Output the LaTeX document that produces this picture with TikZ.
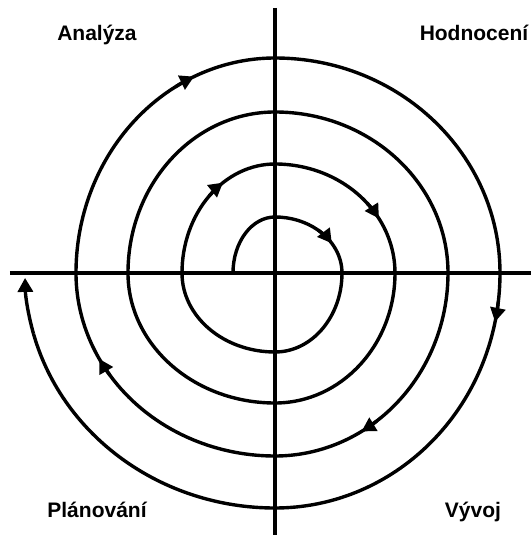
\documentclass[tikz,border=0pt]{standalone}
\usepackage{fontspec}
\setmainfont{Liberation Sans}
\usetikzlibrary{arrows.meta}

\begin{document}
\begin{tikzpicture}[
    x=1pt, y=1pt,
    axis/.style={line width=4.5pt},
    spiral/.style={line width=3.4pt},
    tip/.style={line width=3.4pt, -{Triangle[length=14pt,width=15pt]}},
    phase/.style={font=\fontsize{21}{25}\selectfont\bfseries, anchor=base},
  ]
  \useasboundingbox (-275,-262) rectangle (256,273);

  % axes
  \coordinate (west)  at (-265,0);
  \coordinate (east)  at (256,0);
  \coordinate (north) at (0,265);
  \coordinate (south) at (0,-262);
  \draw[axis] (west) -- (east);
  \draw[axis] (north) -- (south);

  % spiral of quarter ellipses
  \coordinate (start) at (-42,0);
  \draw[spiral] (start)
    arc[start angle=180, end angle=90, x radius=42, y radius=56]
    arc[start angle=90, end angle=50, x radius=67, y radius=56] coordinate (pre1)
    arc[start angle=50, end angle=0, x radius=67, y radius=56]
    arc[start angle=0, end angle=-90, x radius=67, y radius=79]
    arc[start angle=-90, end angle=-180, x radius=93, y radius=79]
    arc[start angle=180, end angle=135, x radius=93, y radius=109] coordinate (pre2)
    arc[start angle=135, end angle=90, x radius=93, y radius=109]
    arc[start angle=90, end angle=40, x radius=120, y radius=109] coordinate (pre3)
    arc[start angle=40, end angle=0, x radius=120, y radius=109]
    arc[start angle=0, end angle=-90, x radius=120, y radius=130]
    arc[start angle=-90, end angle=-180, x radius=147, y radius=130]
    arc[start angle=180, end angle=90, x radius=147, y radius=161]
    arc[start angle=90, end angle=0, x radius=173, y radius=161]
    arc[start angle=0, end angle=-54, x radius=173, y radius=183] coordinate (pre4)
    arc[start angle=-54, end angle=-90, x radius=173, y radius=183]
    arc[start angle=-90, end angle=-146, x radius=199, y radius=183] coordinate (pre5)
    arc[start angle=-146, end angle=-180, x radius=199, y radius=183]
    arc[start angle=180, end angle=120, x radius=199, y radius=215] coordinate (pre6)
    arc[start angle=120, end angle=90, x radius=199, y radius=215]
    arc[start angle=90, end angle=0, x radius=225, y radius=215]
    arc[start angle=0, end angle=-7, x radius=225, y radius=235] coordinate (pre7)
    arc[start angle=-7, end angle=-90, x radius=225, y radius=235]
    arc[start angle=-90, end angle=-165, x radius=250, y radius=235] coordinate (pre8);

  % arrow tips
  \draw[tip] (pre1) arc[start angle=50, end angle=32, x radius=67, y radius=56];
  \draw[tip] (pre2) arc[start angle=135, end angle=124, x radius=93, y radius=109];
  \draw[tip] (pre3) arc[start angle=40, end angle=30, x radius=120, y radius=109];
  \draw[tip] (pre4) arc[start angle=-54, end angle=-60, x radius=173, y radius=183];
  \draw[tip] (pre5) arc[start angle=-146, end angle=-152, x radius=199, y radius=183];
  \draw[tip] (pre6) arc[start angle=120, end angle=114, x radius=199, y radius=215];
  \draw[tip] (pre7) arc[start angle=-7, end angle=-12, x radius=225, y radius=235];
  \draw[tip] (pre8) arc[start angle=-165, end angle=-178.8, x radius=250, y radius=235];

  \node[phase] (analyza)   at (-178,232) {Analýza};
  \node[phase] (hodnoceni) at (199,232)  {Hodnocení};
  \node[phase] (planovani) at (-178,-244) {Plánování};
  \node[phase] (vyvoj)     at (198,-244) {Vývoj};
\end{tikzpicture}
\end{document}
